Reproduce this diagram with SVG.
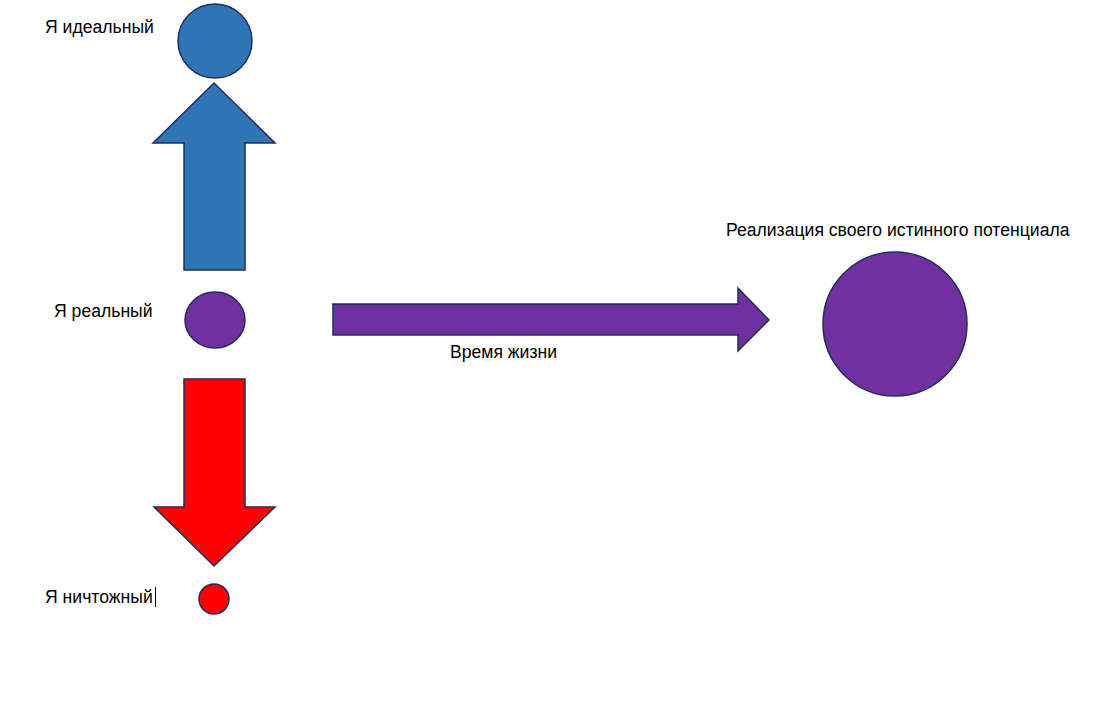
<svg xmlns="http://www.w3.org/2000/svg" width="1111" height="725" viewBox="0 0 1111 725">
<style>
.sh{stroke:#1f2f5c;stroke-width:1.5;stroke-linejoin:miter}
.blue{fill:#2e75b6}
.purple{fill:#7030a0}
.red{fill:#ff0000}
text{font-family:"Liberation Sans",Arial,sans-serif;font-size:17.6px;fill:#000}
</style>
<rect width="1111" height="725" fill="#ffffff"/>
<g id="ideal">
<circle class="sh blue" cx="215" cy="41" r="37"/>
<text x="45" y="33">Я идеальный</text>
</g>
<g id="real">
<ellipse class="sh purple" cx="215" cy="320" rx="30" ry="28"/>
<text x="54" y="317">Я реальный</text>
</g>
<g id="worthless">
<circle class="sh red" cx="214" cy="599" r="15"/>
<text x="45" y="603">Я ничтожный</text>
<line x1="155.5" y1="587" x2="155.5" y2="607" stroke="#000" stroke-width="1"/>
</g>
<g id="potential">
<circle class="sh purple" cx="895" cy="324" r="72"/>
<text x="726" y="236">Реализация своего истинного потенциала</text>
</g>
<g id="connectors">
<polygon class="sh blue" points="214,83 275,143 245,143 245,270 184,270 184,143 153,143"/>
<polygon class="sh red" points="184,379 245,379 245,507 275,507 214,566 154,507 184,507"/>
<polygon class="sh purple" points="333,304 738,304 738,288 769,320 738,351 738,335 333,335"/>
<text x="450" y="358">Время жизни</text>
</g>
</svg>
